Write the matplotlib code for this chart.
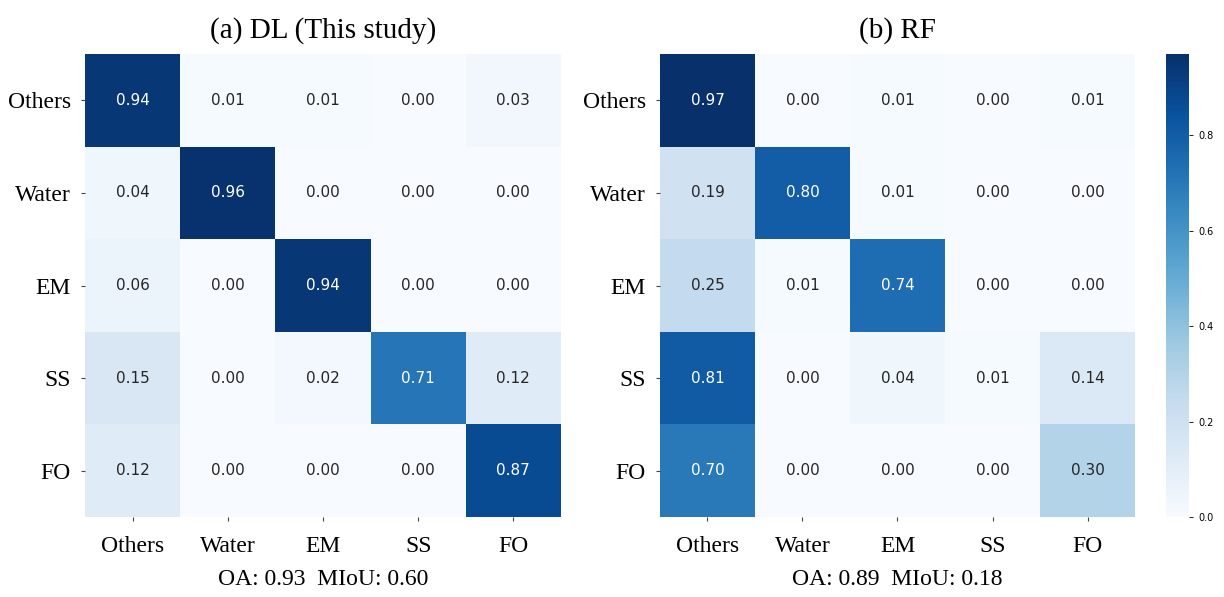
import numpy as np
import matplotlib
matplotlib.use("Agg")
import matplotlib.pyplot as plt

classes = ["Others", "Water", "EM", "SS", "FO"]

dl_cm = [
    [0.94, 0.01, 0.01, 0.00, 0.03],
    [0.04, 0.96, 0.00, 0.00, 0.00],
    [0.06, 0.00, 0.94, 0.00, 0.00],
    [0.15, 0.00, 0.02, 0.71, 0.12],
    [0.12, 0.00, 0.00, 0.00, 0.87],
]
rf_cm = [
    [0.97, 0.00, 0.01, 0.00, 0.01],
    [0.19, 0.80, 0.01, 0.00, 0.00],
    [0.25, 0.01, 0.74, 0.00, 0.00],
    [0.81, 0.00, 0.04, 0.01, 0.14],
    [0.70, 0.00, 0.00, 0.00, 0.30],
]
titles = ["(a) DL (This study)", "(b) RF"]
scores = ["OA: 0.93  MIoU: 0.60", "OA: 0.89  MIoU: 0.18"]

SERIF = ["Liberation Serif", "DejaVu Serif"]
VMIN, VMAX = 0.0, 0.97

fig = plt.figure(figsize=(12.24, 5.97), dpi=100)
axes = [fig.add_axes([0.0694, 0.134, 0.3889, 0.7755]),
        fig.add_axes([0.5392, 0.134, 0.3881, 0.7755])]
cax = fig.add_axes([0.9526, 0.134, 0.0188, 0.7755])

cmap = plt.get_cmap("Blues")
norm = matplotlib.colors.Normalize(VMIN, VMAX)

for ax, cm, title, score in zip(axes, [dl_cm, rf_cm], titles, scores):
    data = np.array(cm)
    mesh = ax.pcolormesh(data, cmap=cmap, norm=norm)
    ax.set_xlim(0, 5)
    ax.set_ylim(5, 0)
    for i in range(data.shape[0]):
        for j in range(data.shape[1]):
            v = data[i, j]
            ax.text(j + 0.5, i + 0.5, f"{v:.2f}", ha="center", va="center",
                    fontsize=11, family="DejaVu Sans",
                    color="white" if v > 0.5 else "#262626")
    ax.set_xticks(np.arange(5) + 0.5)
    ax.set_yticks(np.arange(5) + 0.5)
    ax.set_xticklabels(classes, family=SERIF, fontsize=17)
    ax.set_yticklabels(classes, family=SERIF, fontsize=17, rotation=0)
    ax.tick_params(length=3, width=0.8, color="#444444")
    ax.tick_params(axis="x", pad=11)
    ax.tick_params(axis="y", pad=7)
    for s in ax.spines.values():
        s.set_visible(False)
    ax.set_title(title, family=SERIF, fontsize=21, pad=12)
    ax.text(0.5, -0.136, score, transform=ax.transAxes, ha="center", va="center",
            family=SERIF, fontsize=17)

cb = fig.colorbar(mesh, cax=cax)
cb.outline.set_visible(False)
cb.set_ticks([0.0, 0.2, 0.4, 0.6, 0.8])
cb.ax.tick_params(labelsize=7, length=3, width=0.6)

fig.savefig("out.png", dpi=100)
